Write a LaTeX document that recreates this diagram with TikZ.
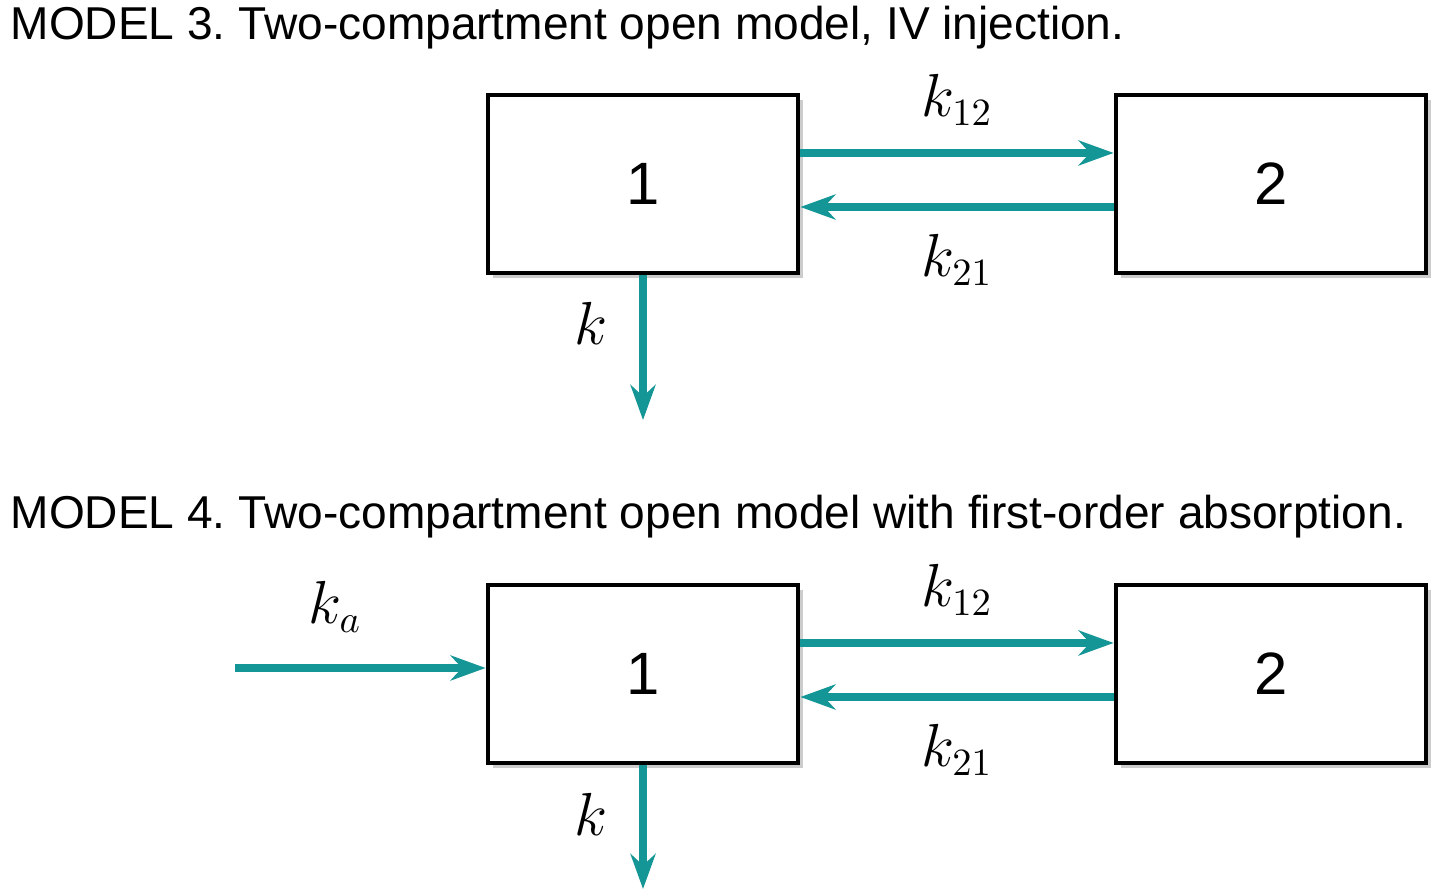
\documentclass[tikz,border=0pt]{standalone}
\usepackage{fontspec}
\setmainfont{Liberation Sans}
\usetikzlibrary{arrows.meta,shadows}
\definecolor{teal}{RGB}{20,150,150}
\frenchspacing
\tikzset{
  comp/.style = {draw, line width=1.3pt, minimum width=3.1cm, minimum height=1.78cm, fill=white,
    drop shadow={shadow xshift=0.05cm, shadow yshift=-0.05cm, opacity=0.4}, font=\fontsize{17}{19}\selectfont},
  flow/.style = {teal, line width=2.2pt, -{Stealth[length=0.35cm, width=0.25cm]}},
  rate/.style = {black, font=\fontsize{16}{18}\selectfont\itshape},
  title/.style = {anchor=west, inner xsep=0pt, font=\fontsize{13.1}{15}\selectfont}
}
\begin{document}
\begin{tikzpicture}[x = 0.01cm, y = -0.01cm]
\useasboundingbox (0, 0) rectangle (1440, 889);
% Model 3
\node[title] (t3) at (10, 28) {MODEL 3. Two-compartment open model, IV injection.};
\node[comp] (a1) at (643, 184) {1};
\node[comp] (a2) at (1271, 184) {2};
\coordinate (a1u) at ([yshift=0.31cm]a1.east);
\coordinate (a1d) at ([yshift=-0.23cm]a1.east);
\draw[flow] (a1u) -- (a1u -| a2.west) node[midway, above=0.12cm, rate] {$k_{12}$};
\draw[flow] (a1d -| a2.west) -- (a1d) node[midway, below=0.12cm, rate] {$k_{21}$};
\coordinate (a0) at (643, 420);
\draw[flow] (a1.south) -- (a0) node[pos=0.33, left=0.2cm, rate] {$k$};
% Model 4
\node[title] (t4) at (10, 517) {MODEL 4. Two-compartment open model with first-order absorption.};
\node[comp] (b1) at (643, 674) {1};
\node[comp] (b2) at (1271, 674) {2};
\coordinate (b1u) at ([yshift=0.31cm]b1.east);
\coordinate (b1d) at ([yshift=-0.23cm]b1.east);
\draw[flow] (b1u) -- (b1u -| b2.west) node[midway, above=0.12cm, rate] {$k_{12}$};
\draw[flow] (b1d -| b2.west) -- (b1d) node[midway, below=0.12cm, rate] {$k_{21}$};
\coordinate (bin) at (235, 668);
\draw[flow] (bin) -- (bin -| b1.west) node[midway, above=0.2cm, xshift=-0.25cm, rate] {$k_a$};
\coordinate (b0) at (643, 889);
\draw[flow] (b1.south) -- (b0) node[pos=0.4, left=0.2cm, rate] {$k$};
\end{tikzpicture}
\end{document}
